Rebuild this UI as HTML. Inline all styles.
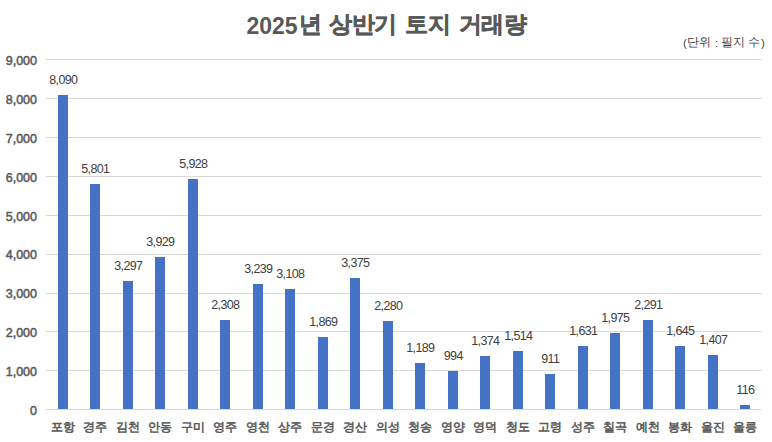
<!DOCTYPE html>
<html><head><meta charset="utf-8"><style>
html,body{margin:0;padding:0;background:#fff;width:772px;height:442px;overflow:hidden}
svg{display:block}
text{font-family:"Liberation Sans",sans-serif}
.k{text-anchor:middle}
</style></head><body>
<svg width="772" height="442" viewBox="0 0 772 442">
<rect width="772" height="442" fill="#fff"/>
<text fill="#595959" font-weight="bold"><tspan x="246.5" y="34" font-size="23">2025</tspan><tspan x="310.2 325.0 340.8 363.9 385.1 400.0 416.4 439.2 453.0 470.2 492.6 515.3" y="32.2" font-size="22.5" text-anchor="middle" stroke="#595959" stroke-width="0.5">년 상반기 토지 거래량</tspan></text>
<text fill="#404040" font-size="11.5" text-anchor="middle" x="684.9 692.9 704.9 710.8 716.6 722.0 727.3 739.0 746.7 754.4 763.0" y="47 46.2 46.2 47 47 47 46.2 46.2 47 46.2 47">(단위 : 필지 수)</text>
<g fill="#595959" font-size="12.5" text-anchor="end" stroke="#595959" stroke-width="0.5">
<text x="37" y="65.00">9,000</text>
<text x="37" y="103.89">8,000</text>
<text x="37" y="142.78">7,000</text>
<text x="37" y="181.67">6,000</text>
<text x="37" y="220.56">5,000</text>
<text x="37" y="259.44">4,000</text>
<text x="37" y="298.33">3,000</text>
<text x="37" y="337.22">2,000</text>
<text x="37" y="376.11">1,000</text>
<text x="37" y="415.00">0</text>
</g>
<rect x="46" y="59" width="715.5" height="1" fill="#d9d9d9"/>
<rect x="46" y="98" width="715.5" height="1" fill="#d9d9d9"/>
<rect x="46" y="137" width="715.5" height="1" fill="#d9d9d9"/>
<rect x="46" y="176" width="715.5" height="1" fill="#d9d9d9"/>
<rect x="46" y="215" width="715.5" height="1" fill="#d9d9d9"/>
<rect x="46" y="254" width="715.5" height="1" fill="#d9d9d9"/>
<rect x="46" y="293" width="715.5" height="1" fill="#d9d9d9"/>
<rect x="46" y="331" width="715.5" height="1" fill="#d9d9d9"/>
<rect x="46" y="370" width="715.5" height="1" fill="#d9d9d9"/>
<g fill="#4472c4">
<rect x="58" y="95.00" width="10.0" height="314.00"/>
<rect x="90" y="184.00" width="10.0" height="225.00"/>
<rect x="123" y="281.00" width="10.0" height="128.00"/>
<rect x="155" y="257.00" width="10.0" height="152.00"/>
<rect x="188" y="179.00" width="10.0" height="230.00"/>
<rect x="220" y="320.00" width="10.0" height="89.00"/>
<rect x="253" y="284.00" width="10.0" height="125.00"/>
<rect x="285" y="289.00" width="10.0" height="120.00"/>
<rect x="318" y="337.00" width="10.0" height="72.00"/>
<rect x="350" y="278.00" width="10.0" height="131.00"/>
<rect x="383" y="321.00" width="10.0" height="88.00"/>
<rect x="415" y="363.00" width="10.0" height="46.00"/>
<rect x="448" y="371.00" width="10.0" height="38.00"/>
<rect x="480" y="356.00" width="10.0" height="53.00"/>
<rect x="513" y="351.00" width="10.0" height="58.00"/>
<rect x="545" y="374.00" width="10.0" height="35.00"/>
<rect x="578" y="346.00" width="10.0" height="63.00"/>
<rect x="610" y="333.00" width="10.0" height="76.00"/>
<rect x="643" y="320.00" width="10.0" height="89.00"/>
<rect x="675" y="346.00" width="10.0" height="63.00"/>
<rect x="708" y="355.00" width="10.0" height="54.00"/>
<rect x="740" y="405.00" width="10.0" height="4.00"/>
</g>
<g fill="#404040" font-size="12.5" letter-spacing="-0.6" text-anchor="middle">
<text x="63.30" y="84.00">8,090</text>
<text x="95.30" y="173.00">5,801</text>
<text x="128.30" y="270.00">3,297</text>
<text x="160.30" y="246.00">3,929</text>
<text x="193.30" y="168.00">5,928</text>
<text x="225.30" y="309.00">2,308</text>
<text x="258.30" y="273.00">3,239</text>
<text x="290.30" y="278.00">3,108</text>
<text x="323.30" y="326.00">1,869</text>
<text x="355.30" y="267.00">3,375</text>
<text x="388.30" y="310.00">2,280</text>
<text x="420.30" y="352.00">1,189</text>
<text x="453.30" y="360.00">994</text>
<text x="485.30" y="345.00">1,374</text>
<text x="518.30" y="340.00">1,514</text>
<text x="550.30" y="363.00">911</text>
<text x="583.30" y="335.00">1,631</text>
<text x="615.30" y="322.00">1,975</text>
<text x="648.30" y="309.00">2,291</text>
<text x="680.30" y="335.00">1,645</text>
<text x="713.30" y="344.00">1,407</text>
<text x="745.30" y="394.00">116</text>
</g>
<g fill="#595959" font-size="12.2" text-anchor="middle" stroke="#595959" stroke-width="0.55">
<text x="57.20 68.80" y="431.4">포항</text>
<text x="89.20 100.80" y="431.4">경주</text>
<text x="122.20 133.80" y="431.4">김천</text>
<text x="154.20 165.80" y="431.4">안동</text>
<text x="187.20 198.80" y="431.4">구미</text>
<text x="219.20 230.80" y="431.4">영주</text>
<text x="252.20 263.80" y="431.4">영천</text>
<text x="284.20 295.80" y="431.4">상주</text>
<text x="317.20 328.80" y="431.4">문경</text>
<text x="349.20 360.80" y="431.4">경산</text>
<text x="382.20 393.80" y="431.4">의성</text>
<text x="414.20 425.80" y="431.4">청송</text>
<text x="447.20 458.80" y="431.4">영양</text>
<text x="479.20 490.80" y="431.4">영덕</text>
<text x="512.20 523.80" y="431.4">청도</text>
<text x="544.20 555.80" y="431.4">고령</text>
<text x="577.20 588.80" y="431.4">성주</text>
<text x="609.20 620.80" y="431.4">칠곡</text>
<text x="642.20 653.80" y="431.4">예천</text>
<text x="674.20 685.80" y="431.4">봉화</text>
<text x="707.20 718.80" y="431.4">울진</text>
<text x="739.20 750.80" y="431.4">울릉</text>
</g>
<rect x="46" y="409" width="715.5" height="1" fill="#d9d9d9"/>
</svg>
</body></html>
